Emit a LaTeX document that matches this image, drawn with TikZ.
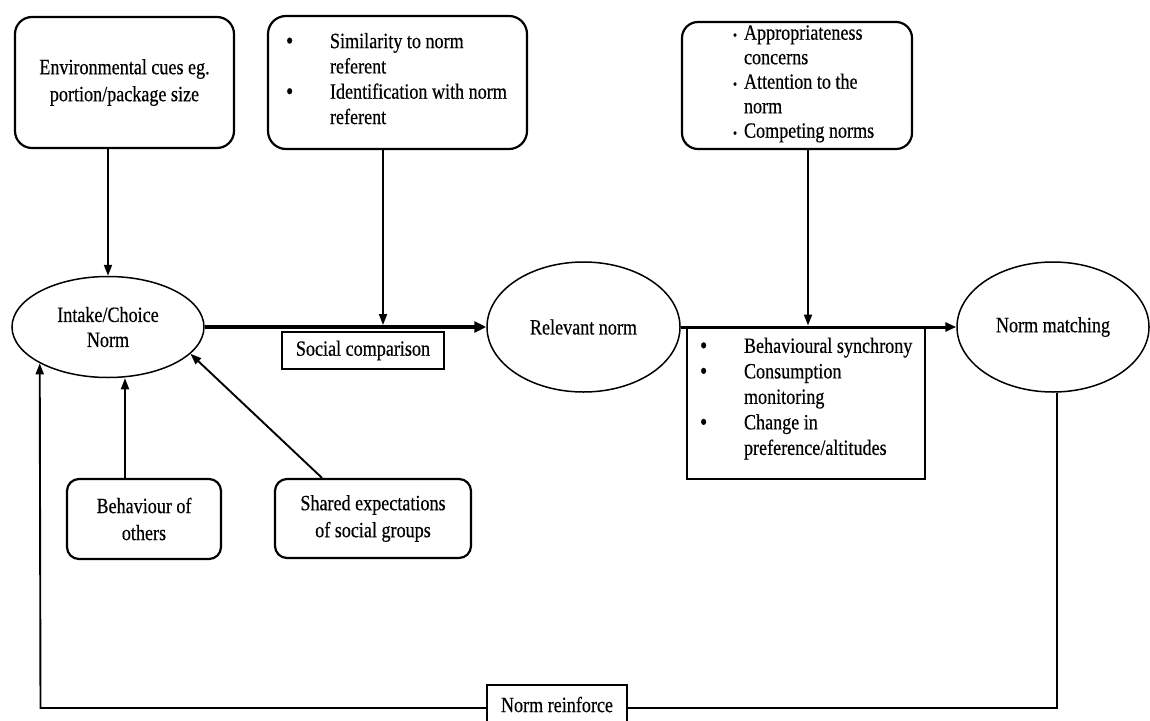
\documentclass[tikz,border=0pt]{standalone}
\usepackage{fontspec}
\setmainfont{Liberation Serif}[FakeStretch=0.83,FakeBold=0.4]
\usetikzlibrary{shapes.geometric,arrows.meta}
\newcommand\dfont{\fontsize{21.8pt}{25pt}\selectfont}
\newcommand\wfont{\fontsize{21.8pt}{27pt}\selectfont}
\newcommand\bul[1]{\makebox[#1][l]{\raisebox{-0.8pt}{\scalebox{1.15}{\textbullet}}}}
\newcommand\sbul[1]{\makebox[#1][l]{{\fontsize{14pt}{14pt}\selectfont\textbullet}}}
\begin{document}
\begin{tikzpicture}[x=1pt,y=-1pt,
  every node/.style={font=\dfont, text=black},
  rbox/.style={draw, line width=2.2pt, rounded corners=17pt, align=center, inner sep=0pt, fill=white},
  pbox/.style={draw, line width=2.2pt, rounded corners=16pt, inner sep=0pt, fill=white},
  ebox/.style={draw, ellipse, line width=1.5pt, align=center, inner sep=1pt},
  sbox/.style={draw, rectangle, line width=1.5pt, align=center, inner sep=0pt, fill=white},
  arr/.style={line width=1.9pt, -{Triangle[length=11pt,width=8pt]}},
  thickarr/.style={line width=4.5pt, -{Triangle[length=12pt,width=11pt]}},
  medarr/.style={line width=3pt, -{Triangle[length=11pt,width=9pt]}}
]
\fill[white] (0,0) rectangle (1150,720);
\useasboundingbox (0,0) rectangle (1150,720);

% top boxes
\node[rbox, minimum width=219pt, minimum height=131pt, font=\wfont] (env) at (124.5,82.5)
  {Environmental cues eg.\\portion/package size};
\node[pbox, rounded corners=18pt] (sim) at (397.5,82.5)
  {\parbox[c][133pt][t]{259pt}{\vspace*{17pt}\raggedright\baselineskip=25.3pt
   \hspace*{18pt}\bul{44pt}Similarity to norm\\
   \hspace*{62pt}referent\\
   \hspace*{18pt}\bul{44pt}Identification with norm\\
   \hspace*{62pt}referent}};
\node[pbox, rounded corners=16pt] (app) at (797,85.5)
  {\parbox[c][127pt][t]{230pt}{\vspace*{3.3pt}\raggedright\baselineskip=24.5pt
   \hspace*{51pt}\sbul{11pt}Appropriateness\\
   \hspace*{62pt}concerns\\
   \hspace*{51pt}\sbul{11pt}Attention to the\\
   \hspace*{62pt}norm\\
   \hspace*{51pt}\sbul{11pt}Competing norms}};

% ellipses
\node[ebox, minimum width=192pt, minimum height=101pt] (intake) at (108,327) {Intake/Choice\\Norm};
\node[ebox, minimum width=193pt, minimum height=130pt] (rel) at (583.5,327) {Relevant norm};
\node[ebox, minimum width=192pt, minimum height=130pt] (nm) at (1053,327) {Norm matching};

% social comparison
\node[sbox, minimum width=162pt, minimum height=37pt] (socc) at (363,350.5) {Social comparison};

% behaviour list box
\node[sbox, anchor=north] (behav) at (806,327)
  {\parbox[c][151pt][t]{238pt}{\vspace*{10pt}\raggedright\baselineskip=25.5pt
   \hspace*{13pt}\bul{44pt}Behavioural synchrony\\
   \hspace*{13pt}\bul{44pt}Consumption\\
   \hspace*{57pt}monitoring\\
   \hspace*{13pt}\bul{44pt}Change in\\
   \hspace*{57pt}preference/altitudes}};

% bottom boxes
\node[rbox, rounded corners=12pt, minimum width=154pt, minimum height=80pt, font=\wfont] (bo) at (144,519) {Behaviour of\\others};
\node[rbox, rounded corners=12pt, minimum width=196pt, minimum height=79pt, font=\wfont] (shared) at (373,518.5) {Shared expectations\\of social groups};

% coordinates
\coordinate (sc) at (383,325);
\coordinate (ac) at (808,325.5);
\coordinate (bx) at (125,0);
\coordinate (sx) at (322,0);
\coordinate (lr) at (1057,708);
\coordinate (ll) at (40.5,708);

% connectors
\draw[thickarr] (intake.east) -- (rel.west);
\draw[medarr] (rel.east) -- (nm.west);
\draw[arr] (env.south -| intake.north) -- (intake.north);
\draw[arr] (sim.south -| sc) -- (sc);
\draw[arr] (app.south -| ac) -- (ac);
\draw[arr] (bo.north -| bx) -- (intake.south -| bx);
\draw[arr] (shared.north -| sx) -- (intake.-18);
\draw[arr] (nm.south -| lr) -- (lr) -- (ll) -- (intake.-152);

% norm reinforce
\node[sbox, minimum width=140pt, minimum height=39pt, line width=1.8pt] (nr) at (557,704.5) {Norm reinforce};
\end{tikzpicture}
\end{document}
